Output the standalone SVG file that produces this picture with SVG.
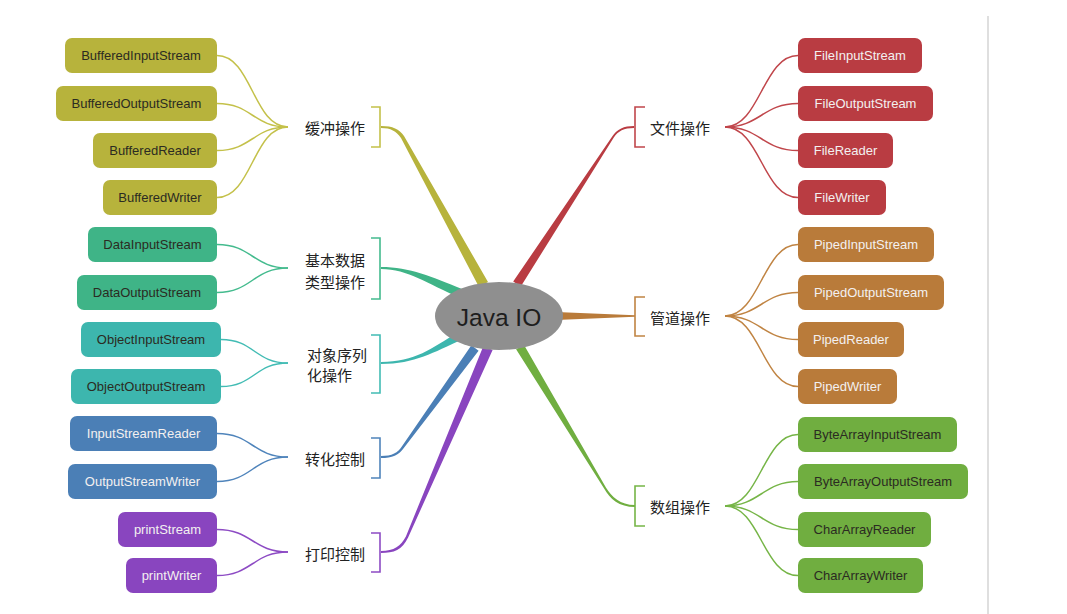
<svg xmlns="http://www.w3.org/2000/svg" width="1067" height="614" viewBox="0 0 1067 614">
<style>
.box{stroke:none}
.t{font-family:"Liberation Sans",Arial,sans-serif;font-size:13px;text-anchor:middle;dominant-baseline:central}
.dk{fill:#2b2b22}
.lt{fill:#f3f0f0}
.lbl{font-family:"Noto Sans CJK SC","Noto Sans",sans-serif;font-size:15px;fill:#222;dominant-baseline:central}
.c{fill:none;stroke-width:1.5}
.br{fill:none;stroke-width:1.6}
.yel{fill:#b7b33c}.yelS{stroke:#c4c14a}
.dat{fill:#3fb487}.datS{stroke:#44bb8e}
.obj{fill:#3db6ae}.objS{stroke:#42bcb4}
.blu{fill:#4b7fb6}.bluS{stroke:#4f84bb}
.pur{fill:#8945bf}.purS{stroke:#8d4bc4}
.red{fill:#b93c42}.redS{stroke:#c0464b}
.ora{fill:#b97b3a}.oraS{stroke:#c08443}
.grn{fill:#70ae40}.grnS{stroke:#76b547}
</style>
<rect width="1067" height="614" fill="#ffffff"/>
<line x1="988" y1="16" x2="988" y2="614" stroke="#d4d4d4" stroke-width="1.5"/>

<g id="connectors">
  <!-- main tapered branches -->
  <path class="yel" d="M381,126 C393,126 399,129 404,136 L488,282 L479,287 L401,138 C396,131 391,128 381,128 Z"/>
  <path class="red" d="M634,126 C624,126 617,129 612.2,136.5 L513.2,281.5 L520.8,286.5 L613.8,137.5 C618,131 624,128 634,128 Z"/>
  <path class="ora" d="M556,312 L635,315.2 L635,316.8 L556,320 Z"/>
  <path class="grn" d="M523.9,344.7 L605.9,487.5 C612,497 620,505 635,505 L635,507 C619,507 610,499 604.1,488.5 L516.1,349.3 Z"/>
  <path class="dat" d="M381,267 C410,267 432,277 462,289 L458,297 C428,284 408,269 381,269 Z"/>
  <path class="obj" d="M381,362 C415,362 432,348 457,333 L461,340 C434,352 415,364 381,364 Z"/>
  <path class="blu" d="M381,456 C392,456 398,453 402,446.3 L471.4,345.3 L478.6,350.7 L404,447.7 C399,455 392,458 381,458 Z"/>
  <path class="pur" d="M381,551 C394,551 401,546 405.9,536.5 L483.4,346 L492.6,350 L408.1,537.5 C402,550 394,553 381,553 Z"/>

  <!-- brackets -->
  <path class="br yelS" d="M371,107 H380 V147 H371"/>
  <path class="br datS" d="M371,238 H380 V299 H371"/>
  <path class="br objS" d="M371,335 H380 V393 H371"/>
  <path class="br bluS" d="M371,438 H380 V478 H371"/>
  <path class="br purS" d="M371,533 H380 V572 H371"/>
  <path class="br redS" d="M645,107 H635 V147 H645"/>
  <path class="br oraS" d="M645,297 H635 V336 H645"/>
  <path class="br grnS" d="M645,486 H635 V526 H645"/>

  <!-- left leaf curves -->
  <path class="c yelS" d="M217,55.5 C252,55.5 253,127 288,127"/>
  <path class="c yelS" d="M217,103.5 C252,103.5 253,127 288,127"/>
  <path class="c yelS" d="M217,150.5 C252,150.5 253,127 288,127"/>
  <path class="c yelS" d="M217,197.5 C252,197.5 253,127 288,127"/>
  <path class="c datS" d="M217,244.5 C252,244.5 253,268 288,268"/>
  <path class="c datS" d="M217,292.5 C252,292.5 253,268 288,268"/>
  <path class="c objS" d="M221,339.5 C254,339.5 255,363 288,363"/>
  <path class="c objS" d="M221,386.5 C254,386.5 255,363 288,363"/>
  <path class="c bluS" d="M217,433.5 C252,433.5 253,457 288,457"/>
  <path class="c bluS" d="M217,481.5 C252,481.5 253,457 288,457"/>
  <path class="c purS" d="M217,529.5 C252,529.5 253,552 288,552"/>
  <path class="c purS" d="M217,575.5 C252,575.5 253,552 288,552"/>

  <!-- right leaf curves -->
  <path class="c redS" d="M725,127 C760,127 763,55.5 798,55.5"/>
  <path class="c redS" d="M725,127 C760,127 763,103.5 798,103.5"/>
  <path class="c redS" d="M725,127 C760,127 763,150.5 798,150.5"/>
  <path class="c redS" d="M725,127 C760,127 763,197.5 798,197.5"/>
  <path class="c oraS" d="M725,316 C760,316 763,244.5 798,244.5"/>
  <path class="c oraS" d="M725,316 C760,316 763,292.5 798,292.5"/>
  <path class="c oraS" d="M725,316 C760,316 763,339.5 798,339.5"/>
  <path class="c oraS" d="M725,316 C760,316 763,386.5 798,386.5"/>
  <path class="c grnS" d="M725,506 C760,506 763,434.5 798,434.5"/>
  <path class="c grnS" d="M725,506 C760,506 763,481.5 798,481.5"/>
  <path class="c grnS" d="M725,506 C760,506 763,529.5 798,529.5"/>
  <path class="c grnS" d="M725,506 C760,506 763,575.5 798,575.5"/>
</g>

<g id="center">
  <ellipse cx="499" cy="316" rx="64" ry="34" fill="#8f8f8f"/>
  <text x="499" y="317" font-family="Liberation Sans,Arial,sans-serif" font-size="24.5" fill="#1e1e1e" text-anchor="middle" dominant-baseline="central">Java IO</text>
</g>

<!-- group labels -->
<g id="g-buffer"><text class="lbl" x="305" y="127">缓冲操作</text></g>
<g id="g-data"><text class="lbl" x="305" y="259">基本数据</text><text class="lbl" x="305" y="281">类型操作</text></g>
<g id="g-object"><text class="lbl" x="307" y="354">对象序列</text><text class="lbl" x="307" y="374">化操作</text></g>
<g id="g-convert"><text class="lbl" x="305" y="458">转化控制</text></g>
<g id="g-print"><text class="lbl" x="305" y="553">打印控制</text></g>
<g id="g-file"><text class="lbl" x="650" y="127">文件操作</text></g>
<g id="g-pipe"><text class="lbl" x="650" y="317">管道操作</text></g>
<g id="g-array"><text class="lbl" x="650" y="506">数组操作</text></g>

<!-- left leaves -->
<g id="n-BufferedInputStream"><rect class="box yel" x="65" y="38" width="152" height="35" rx="7"/><text class="t dk" x="141" y="55.5">BufferedInputStream</text></g>
<g id="n-BufferedOutputStream"><rect class="box yel" x="56" y="86" width="161" height="35" rx="7"/><text class="t dk" x="136.5" y="103.5">BufferedOutputStream</text></g>
<g id="n-BufferedReader"><rect class="box yel" x="93" y="133" width="124" height="35" rx="7"/><text class="t dk" x="155" y="150.5">BufferedReader</text></g>
<g id="n-BufferedWriter"><rect class="box yel" x="103" y="180" width="114" height="35" rx="7"/><text class="t dk" x="160" y="197.5">BufferedWriter</text></g>
<g id="n-DataInputStream"><rect class="box dat" x="88" y="227" width="129" height="35" rx="7"/><text class="t dk" x="152.5" y="244.5">DataInputStream</text></g>
<g id="n-DataOutputStream"><rect class="box dat" x="77" y="275" width="140" height="35" rx="7"/><text class="t dk" x="147" y="292.5">DataOutputStream</text></g>
<g id="n-ObjectInputStream"><rect class="box obj" x="81" y="322" width="140" height="35" rx="7"/><text class="t dk" x="151" y="339.5">ObjectInputStream</text></g>
<g id="n-ObjectOutputStream"><rect class="box obj" x="71" y="369" width="150" height="35" rx="7"/><text class="t dk" x="146" y="386.5">ObjectOutputStream</text></g>
<g id="n-InputStreamReader"><rect class="box blu" x="70" y="416" width="147" height="35" rx="7"/><text class="t lt" x="143.5" y="433.5">InputStreamReader</text></g>
<g id="n-OutputStreamWriter"><rect class="box blu" x="68" y="464" width="149" height="35" rx="7"/><text class="t lt" x="142.5" y="481.5">OutputStreamWriter</text></g>
<g id="n-printStream"><rect class="box pur" x="118" y="512" width="99" height="35" rx="7"/><text class="t lt" x="167.5" y="529.5">printStream</text></g>
<g id="n-printWriter"><rect class="box pur" x="126" y="558" width="91" height="35" rx="7"/><text class="t lt" x="171.5" y="575.5">printWriter</text></g>

<!-- right leaves -->
<g id="n-FileInputStream"><rect class="box red" x="798" y="38" width="124" height="35" rx="7"/><text class="t lt" x="860" y="55.5">FileInputStream</text></g>
<g id="n-FileOutputStream"><rect class="box red" x="798" y="86" width="135" height="35" rx="7"/><text class="t lt" x="865.5" y="103.5">FileOutputStream</text></g>
<g id="n-FileReader"><rect class="box red" x="798" y="133" width="95" height="35" rx="7"/><text class="t lt" x="845.5" y="150.5">FileReader</text></g>
<g id="n-FileWriter"><rect class="box red" x="798" y="180" width="88" height="35" rx="7"/><text class="t lt" x="842" y="197.5">FileWriter</text></g>
<g id="n-PipedInputStream"><rect class="box ora" x="798" y="227" width="136" height="35" rx="7"/><text class="t lt" x="866" y="244.5">PipedInputStream</text></g>
<g id="n-PipedOutputStream"><rect class="box ora" x="798" y="275" width="146" height="35" rx="7"/><text class="t lt" x="871" y="292.5">PipedOutputStream</text></g>
<g id="n-PipedReader"><rect class="box ora" x="798" y="322" width="106" height="35" rx="7"/><text class="t lt" x="851" y="339.5">PipedReader</text></g>
<g id="n-PipedWriter"><rect class="box ora" x="798" y="369" width="99" height="35" rx="7"/><text class="t lt" x="847.5" y="386.5">PipedWriter</text></g>
<g id="n-ByteArrayInputStream"><rect class="box grn" x="798" y="417" width="159" height="35" rx="7"/><text class="t dk" x="877.5" y="434.5">ByteArrayInputStream</text></g>
<g id="n-ByteArrayOutputStream"><rect class="box grn" x="798" y="464" width="170" height="35" rx="7"/><text class="t dk" x="883" y="481.5">ByteArrayOutputStream</text></g>
<g id="n-CharArrayReader"><rect class="box grn" x="798" y="512" width="133" height="35" rx="7"/><text class="t dk" x="864.5" y="529.5">CharArrayReader</text></g>
<g id="n-CharArrayWriter"><rect class="box grn" x="798" y="558" width="125" height="35" rx="7"/><text class="t dk" x="860.5" y="575.5">CharArrayWriter</text></g>
</svg>
